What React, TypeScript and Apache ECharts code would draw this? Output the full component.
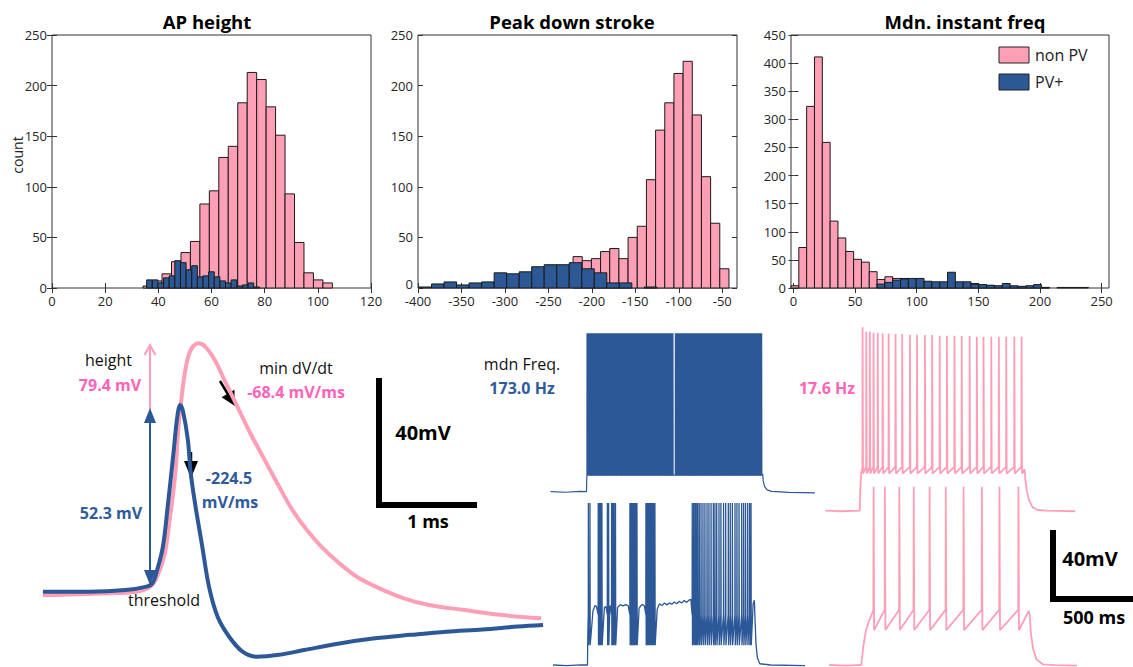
import React, { useEffect, useRef } from "react";
import * as echarts from "echarts";

const FONT = '"Open Sans", "Liberation Sans", sans-serif';
const PINK_FILL = "#ff9fb5";
const BLUE_FILL = "#2c5896";
const PINK_LINE = "#ff9fb7";
const BLUE_LINE = "#2c5897";
const PINK_TEXT = "#ff63b8";
const BLUE_TEXT = "#2e5b9c";

// ---------- Histogram data ----------
const apHeightTicks = [0, 20, 40, 60, 80, 100, 120];
const apHeightNonPVStart = 34.27;
const apHeightNonPVWidth = 3.56;
const apHeightNonPV = [2, 7, 14, 26, 35, 46, 83, 96, 129, 140, 183, 213, 206, 179, 151, 93, 45, 15, 8, 5];
const apHeightPVStart = 35.6;
const apHeightPVWidth = 2.12;
const apHeightPV = [8, 8, 5, 10, 12, 27, 25, 18, 22, 11, 12, 16, 11, 7, 5, 8, 2, 3, 5, 1];

const downStrokeTicks = [-400, -350, -300, -250, -200, -150, -100, -50];
const downStrokeNonPVStart = -221.6;
const downStrokeNonPVWidth = 10.55;
const downStrokeNonPV = [31, 27, 29, 36, 39, 29, 50, 61, 107, 156, 183, 212, 224, 171, 110, 64, 19];
const downStrokePVStart = -398.8;
const downStrokePVWidth = 14.4;
const downStrokePV = [1, 4, 6, 3, 5, 6, 15, 14, 16, 21, 23, 23, 25, 19, 15, 5, 5, 0, 1];

const freqTicks = [0, 50, 100, 150, 200, 250];
const freqNonPVStart = -2;
const freqBinWidth = 6.35;
const freqNonPV = [4, 72, 323, 411, 259, 119, 89, 65, 51, 46, 29, 15, 20, 17, 17, 14, 12, 10, 9, 8, 7, 6, 6, 8, 5, 4, 3, 3, 2, 2, 2, 1, 1];
const freqPVStart = 67.85;
const freqPV = [7, 10, 14, 16, 17, 17, 12, 11, 11, 28, 11, 11, 7, 6, 5, 4, 8, 4, 3, 4, 6, 1, 0, 1, 1, 1, 1];

// ---------- Action potential waveforms (ms, mV) ----------
const apPV = [[0, -44.9], [0.48, -44.9], [0.86, -44.4], [1.08, -43.3], [1.14, -42.3], [1.19, -38.1], [1.25, -30.7], [1.3, -18.1], [1.36, -1.3], [1.4, 10.2], [1.43, 13.9], [1.46, 11.8], [1.51, 2.9], [1.54, -7.6], [1.59, -18.1], [1.66, -30.7], [1.73, -43.3], [1.82, -52.8], [1.94, -59.1], [2.08, -63.8], [2.23, -65.4], [2.46, -64.8], [2.72, -63.3], [3.09, -61.2], [3.46, -59.6], [3.83, -58.5], [4.2, -57.5], [4.58, -56.8], [4.95, -55.9], [5.21, -55.4]];
const apNonPV = [[0, -46.0], [0.48, -45.6], [0.97, -44.9], [1.12, -43.3], [1.19, -40.2], [1.27, -32.8], [1.32, -22.3], [1.38, -7.6], [1.41, 6.0], [1.45, 17.6], [1.49, 26.0], [1.54, 31.2], [1.62, 33.3], [1.69, 32.3], [1.79, 28.1], [1.9, 21.2], [2.01, 14.4], [2.16, 5.0], [2.31, -3.4], [2.46, -11.8], [2.6, -19.2], [2.75, -25.5], [2.9, -30.7], [3.09, -36.0], [3.27, -40.2], [3.5, -43.8], [3.76, -47.0], [4.02, -49.1], [4.39, -50.7], [4.76, -52.2], [5.19, -53.3]];

// ---------- Spike trains (ms, mV) ----------
const pvTopSpikes = [2, 7, 13, 18, 24, 30, 35, 41, 47, 52, 58, 64, 70, 75, 81, 87, 92, 98, 104, 110,
  115, 121, 127, 133, 138, 144, 150, 156, 161, 167, 173, 179, 184, 190, 196, 202, 208, 213, 219, 225,
  231, 237, 242, 248, 254, 260, 266, 272, 277, 283, 289, 295, 301, 307, 312, 318, 324, 330, 336, 342,
  348, 353, 359, 365, 371, 377, 383, 389, 395, 400, 406, 412, 418, 424, 430, 436, 442, 448, 454, 460,
  466, 472, 478, 484, 490, 504, 510, 515, 521, 527, 533, 539, 545, 551, 556, 562, 568, 574, 580, 586,
  592, 598, 604, 610, 616, 622, 628, 634, 640, 646, 652, 658, 664, 670, 676, 682, 688, 694, 700, 706,
  712, 718, 724, 730, 736, 742, 748, 754, 760, 766, 772, 778, 784, 790, 796, 802, 808, 814, 820, 826,
  832, 838, 844, 850, 856, 862, 868, 874, 880, 886, 892, 898, 904, 910, 916, 922, 928, 934, 940, 946,
  952, 958, 964, 970, 976, 982, 988, 994];
const pvTopShape = [[-205, -70], [-120, -70.3], [-40, -69.8], [-1, -70], [1, -61], [1000, -60], [1003, -64], [1010, -67], [1025, -69], [1050, -69.8], [1150, -70.4], [1297, -70.6]];

const pvBottomSpikes = [4, 13, 60, 67, 74, 81, 112, 119, 136, 143, 150, 158, 240, 246, 252, 257, 263, 269, 274, 280,
  331, 337, 344, 350, 357, 363, 369, 376, 382, 594, 602, 610, 617, 625, 634, 644, 655, 666, 678, 689, 701,
  714, 723, 733, 746, 757, 772, 784, 799, 810, 822, 837, 848, 860, 875, 886, 897, 909, 920, 928];
const pvBottomShape = [[-197, -70], [-120, -70.3], [-40, -69.9], [-1, -70], [1, -52],
  [30, -40], [42, -37], [50, -37.5], [95, -38], [104, -37.5], [126, -38], [130, -37],
  [170, -38], [185, -36.5], [200, -37.2], [215, -36.5], [230, -37], [292, -38.5], [302, -37], [312, -36.5], [322, -37],
  [395, -39], [408, -36], [422, -37], [436, -35.5], [450, -36.6], [464, -35.5], [478, -36.2], [492, -35], [506, -36],
  [520, -34.6], [534, -35.6], [548, -34.2], [562, -35.2], [575, -34], [586, -33.5],
  [940, -36], [947, -34], [951, -45], [956, -58], [964, -66], [978, -69.3], [1040, -70], [1235, -70.3]];

const nonPvTopSpikes = [15, 36, 56, 77, 101, 129, 163, 202, 240, 284, 324, 369, 410, 453, 494, 537, 578, 623, 664, 702, 746, 789, 831, 877, 918];
const nonPvTopPeaks = [31.9, 29.5, 29.5, 28.9, 28.9, 28.5, 28.5, 28.1, 28.1, 27.8, 27.8, 27.6, 27.6, 27.2, 27.2, 27.2, 27, 27, 26.7, 26.7, 26.7, 26.7, 26.7, 26.7, 26.7];
const nonPvTopShape = [[-196, -70], [-110, -70.3], [-1, -70], [2, -58], [6, -50], [935, -47], [940, -53], [948, -59], [960, -64], [980, -68], [1010, -69.6], [1060, -70], [1223, -70.3]];

const nonPvBottomSpikes = [69, 133, 215, 297, 387, 479, 580, 684, 784, 892];
const nonPvBottomShape = [[-183, -70], [-90, -70.3], [-1, -70], [10, -60], [25, -51], [45, -45], [60, -41.5], [950, -40], [956, -42], [962, -52], [975, -61], [995, -67], [1030, -69.6], [1100, -70.1], [1224, -70.3]];

function buildTrace(shape, spikes, peak, pre, trough, rise, fall) {
  const pts = shape.map((p) => [p[0], p[1]]);
  spikes.forEach((t, i) => {
    const pk = Array.isArray(peak) ? peak[i] : peak;
    pts.push([t - rise, pre], [t, pk], [t + fall, trough]);
  });
  pts.sort((a, b) => a[0] - b[0]);
  return pts;
}

function histSeries(axis, start, width, counts, color, name) {
  const data = counts
    .map((c, i) => [start + i * width, start + (i + 1) * width, c])
    .filter((d) => d[2] > 0);
  return {
    type: "custom",
    name,
    xAxisIndex: axis,
    yAxisIndex: axis,
    data,
    encode: { x: [0, 1], y: 2 },
    renderItem: (params, api) => {
      const a = api.coord([api.value(0), api.value(2)]);
      const b = api.coord([api.value(1), 0]);
      return {
        type: "rect",
        shape: { x: a[0], y: a[1], width: b[0] - a[0], height: b[1] - a[1] },
        style: { fill: color, stroke: "#1a1a1a", lineWidth: 1 },
      };
    },
  };
}

const labelStyle = { color: "#262626", fontSize: 13, fontFamily: FONT };

function histAxes(grid, xmin, xmax, xticks, ymax, liftZero) {
  const tick = { show: true, inside: true, length: 5, lineStyle: { color: "#333", width: 1 }, customValues: xticks };
  const yLabel = liftZero
    ? { ...labelStyle, margin: 5, formatter: (v) => (v === 0 ? "{z|0}" : String(v)),
        rich: { z: { ...labelStyle, padding: [0, 0, 9, 0] } } }
    : { ...labelStyle, margin: 5 };
  return {
    x: [
      { gridIndex: grid, type: "value", min: xmin, max: xmax, axisLine: { show: false }, splitLine: { show: false },
        axisTick: tick, axisLabel: { ...labelStyle, margin: 6, customValues: xticks } },
      { gridIndex: grid, type: "value", position: "top", min: xmin, max: xmax, axisLine: { show: false }, splitLine: { show: false },
        axisTick: tick, axisLabel: { show: false, customValues: xticks } },
    ],
    y: [
      { gridIndex: grid, type: "value", min: 0, max: ymax, interval: 50, axisLine: { show: false }, splitLine: { show: false },
        axisTick: { show: true, inside: true, length: 5, lineStyle: { color: "#333" } }, axisLabel: yLabel },
      { gridIndex: grid, type: "value", position: "right", min: 0, max: ymax, interval: 50, axisLine: { show: false }, splitLine: { show: false },
        axisTick: { show: true, inside: true, length: 5, lineStyle: { color: "#333" } }, axisLabel: { show: false } },
    ],
  };
}

function txt(x, y, text, opts = {}) {
  return {
    type: "text", x, y, rotation: opts.rotation || 0,
    style: {
      text, fill: opts.color || "#111",
      font: `${opts.bold ? "bold " : ""}${opts.size || 16}px ${FONT}`,
      textAlign: opts.align || "center", textVerticalAlign: "middle",
    },
  };
}
function ln(x1, y1, x2, y2, color, w) {
  return { type: "line", shape: { x1, y1, x2, y2 }, style: { stroke: color, lineWidth: w } };
}
function poly(points, color) {
  return { type: "polygon", shape: { points }, style: { fill: color } };
}
function box(x, y, w, h, color) {
  return { type: "rect", shape: { x, y, width: w, height: h }, style: { fill: color } };
}

export default function App() {
  const ref = useRef(null);
  useEffect(() => {
    document.body.style.margin = "0";
    const chart = echarts.init(ref.current, null, { renderer: "svg" });
    const h1 = histAxes(0, 0, 120, apHeightTicks, 250, false);
    const h2 = histAxes(1, -400, -33, downStrokeTicks, 250, true);
    const h3 = histAxes(2, -2, 256, freqTicks, 450, false);
    const hidden = (gi, min, max) => ({ gridIndex: gi, type: "value", min, max, show: false });
    const gridBox = { show: true, borderColor: "#333", borderWidth: 1, backgroundColor: "transparent", containLabel: false, outerBoundsMode: "none" };
    const plain = { containLabel: false, outerBoundsMode: "none" };
    const lineS = (axis, data, color, width, smooth) => ({
      type: "line", xAxisIndex: axis, yAxisIndex: axis, data, showSymbol: false, symbol: "none",
      smooth: smooth || false, lineStyle: { color, width }, silent: true,
    });

    const option = {
      animation: false,
      grid: [
        { left: 52, top: 35, width: 319, height: 253, ...gridBox },
        { left: 418, top: 35, width: 319, height: 253, ...gridBox },
        { left: 791, top: 35, width: 318, height: 253, ...gridBox },
        { left: 42.9, top: 322.1, width: 504, height: 349.25, ...plain },
        { left: 549.7, top: 293.7, width: 265.8, height: 207, ...plain },
        { left: 550.7, top: 467, width: 265.8, height: 207, ...plain },
        { left: 823, top: 312.7, width: 265.8, height: 207, ...plain },
        { left: 824.5, top: 467, width: 265.8, height: 207, ...plain },
      ],
      xAxis: [
        ...h1.x, ...h2.x, ...h3.x,
        hidden(3, 0, 5.25),
        hidden(4, -210, 1300), hidden(5, -210, 1300), hidden(6, -210, 1300), hidden(7, -210, 1300),
      ],
      yAxis: [
        ...h1.y, ...h2.y, ...h3.y,
        hidden(3, -70, 40),
        hidden(4, -75, 40), hidden(5, -75, 40), hidden(6, -75, 40), hidden(7, -75, 40),
      ],
      series: [
        histSeries(0, apHeightNonPVStart, apHeightNonPVWidth, apHeightNonPV, PINK_FILL, "non PV"),
        histSeries(0, apHeightPVStart, apHeightPVWidth, apHeightPV, BLUE_FILL, "PV+"),
        histSeries(2, downStrokeNonPVStart, downStrokeNonPVWidth, downStrokeNonPV, PINK_FILL, "non PV"),
        histSeries(2, downStrokePVStart, downStrokePVWidth, downStrokePV, BLUE_FILL, "PV+"),
        histSeries(4, freqNonPVStart, freqBinWidth, freqNonPV, PINK_FILL, "non PV"),
        histSeries(4, freqPVStart, freqBinWidth, freqPV, BLUE_FILL, "PV+"),
        lineS(6, apNonPV, PINK_LINE, 4, 0.35),
        lineS(6, apPV, BLUE_LINE, 4, 0.35),
        lineS(7, buildTrace(pvTopShape, pvTopSpikes, 18, -60.5, -61, 0.4, 1.2), BLUE_LINE, 1.2),
        lineS(8, buildTrace(pvBottomShape, pvBottomSpikes, 20, -42, -59, 0.5, 1.5), BLUE_LINE, 1.3),
        lineS(9, buildTrace(nonPvTopShape, nonPvTopSpikes, nonPvTopPeaks, -45.7, -49.4, 1, 2.5), PINK_LINE, 1.8),
        lineS(10, buildTrace(nonPvBottomShape, nonPvBottomSpikes, 29, -39.4, -50.6, 1.5, 3), PINK_LINE, 1.8),
      ],
      graphic: [
        txt(207, 21, "AP height", { bold: true, size: 18.5, color: "#000" }),
        txt(572, 21, "Peak down stroke", { bold: true, size: 18.5, color: "#000" }),
        txt(965, 21, "Mdn. instant freq", { bold: true, size: 18.5, color: "#000" }),
        txt(17, 155, "count", { size: 14, rotation: Math.PI / 2, color: "#222" }),
        { type: "rect", shape: { x: 999, y: 47, width: 30, height: 16 }, style: { fill: PINK_FILL, stroke: "#222", lineWidth: 1 } },
        { type: "rect", shape: { x: 999, y: 74, width: 30, height: 16 }, style: { fill: BLUE_FILL, stroke: "#222", lineWidth: 1 } },
        txt(1035, 55, "non PV", { size: 16, align: "left", color: "#222" }),
        txt(1035, 82, "PV+", { size: 16, align: "left", color: "#222" }),
        // AP annotations
        txt(108.5, 360, "height", { size: 16 }),
        txt(110, 385, "79.4 mV", { size: 16, bold: true, color: PINK_TEXT }),
        txt(111, 513, "52.3 mV", { size: 16, bold: true, color: BLUE_TEXT }),
        txt(164, 600, "threshold", { size: 16 }),
        txt(296, 368, "min dV/dt", { size: 16 }),
        txt(296, 392, "-68.4 mV/ms", { size: 16, bold: true, color: PINK_TEXT }),
        txt(229, 478, "-224.5", { size: 16, bold: true, color: BLUE_TEXT }),
        txt(230, 502, "mV/ms", { size: 16, bold: true, color: BLUE_TEXT }),
        ln(150, 410, 150, 346, PINK_LINE, 2),
        { type: "polyline", shape: { points: [[144.5, 355], [150, 345], [155.5, 355]] }, style: { stroke: PINK_LINE, lineWidth: 2, fill: null } },
        ln(150, 420, 150, 572, BLUE_LINE, 2),
        poly([[150, 408], [144, 423], [156, 423]], BLUE_LINE),
        poly([[150, 585], [144, 570], [156, 570]], BLUE_LINE),
        ln(220, 381, 229, 396, "#000", 2.5),
        poly([[235, 406], [221.6, 397.2], [234.4, 389.8]], "#000"),
        ln(191, 452, 191, 464, "#000", 2.5),
        poly([[191, 478], [184, 461], [198, 461]], "#000"),
        box(376, 378, 6, 130, "#000"),
        box(376, 502, 101, 6, "#000"),
        txt(423, 432, "40mV", { size: 20, bold: true, color: "#000" }),
        txt(428, 521, "1 ms", { size: 18, bold: true, color: "#000" }),
        // spike train annotations
        txt(522, 364, "mdn Freq.", { size: 16 }),
        txt(522, 388, "173.0 Hz", { size: 16, bold: true, color: BLUE_TEXT }),
        txt(827, 388, "17.6 Hz", { size: 16, bold: true, color: PINK_TEXT }),
        box(1050, 530, 6, 72, "#000"),
        box(1050, 596, 90, 6, "#000"),
        txt(1090, 558, "40mV", { size: 20, bold: true, color: "#000" }),
        txt(1094, 617, "500 ms", { size: 18, bold: true, color: "#000" }),
      ],
    };
    chart.setOption(option);
    return () => chart.dispose();
  }, []);
  return <div ref={ref} style={{ width: 1133, height: 667 }} />;
}
